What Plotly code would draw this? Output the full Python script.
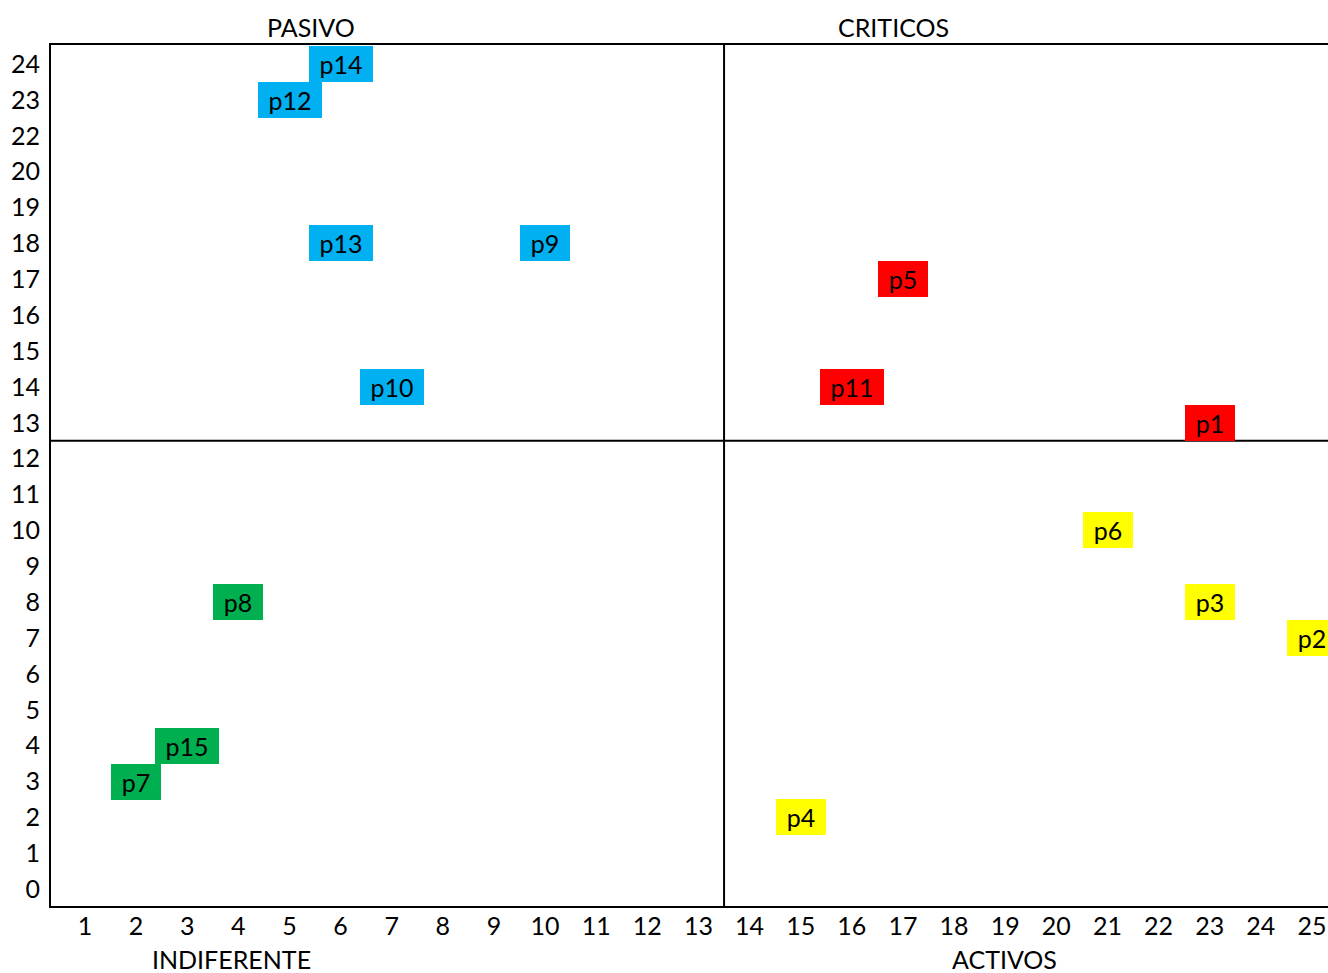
import plotly.graph_objects as go

# ---- data ----
labels = ["p1", "p2", "p3", "p4", "p5", "p6", "p7", "p8", "p9", "p10",
          "p11", "p12", "p13", "p14", "p15"]
x_vals = [23, 25, 23, 15, 17, 21, 2, 4, 10, 7, 16, 5, 6, 6, 3]
y_vals = [13, 7, 8, 2, 17, 10, 3, 8, 18, 14, 14, 23, 18, 24, 4]
x_ticks = list(range(1, 26))
y_categories = [str(v) for v in list(range(0, 21)) + [22, 23, 24]]
x_split = 13.5
y_split = 12.5
quadrant_titles = ["PASIVO", "CRITICOS", "INDIFERENTE", "ACTIVOS"]

# ---- styling ----
FONT = "Lato"
FS = 25
COL_CRIT = "#FF0000"
COL_ACT = "#FFFF00"
COL_PAS = "#00B0F0"
COL_IND = "#00B050"


def quad_color(x, y):
    if x > x_split and y > y_split:
        return COL_CRIT
    if x > x_split:
        return COL_ACT
    if y > y_split:
        return COL_PAS
    return COL_IND


y_str = [str(v) for v in y_vals]
# position index of each y value on the category axis
y_idx = [y_categories.index(s) for s in y_str]

fig = go.Figure()
fig.add_trace(go.Scatter(
    x=x_vals, y=y_str, mode="markers",
    marker=dict(size=1, color="rgba(0,0,0,0)"),
    hoverinfo="text", text=labels, showlegend=False,
))

for lab, xv, yv, yi in zip(labels, x_vals, y_vals, y_idx):
    fig.add_annotation(
        x=xv, y=yi, xref="x", yref="y", text=lab, showarrow=False,
        bgcolor=quad_color(xv, yv), borderwidth=0, borderpad=0,
        width=(64 if len(lab) > 2 else 50), height=36,
        font=dict(family=FONT, size=FS, color="black"),
        align="center", valign="middle",
    )

# quadrant separator lines
fig.add_shape(type="line", xref="x", yref="paper", x0=x_split, x1=x_split,
              y0=0, y1=1, line=dict(color="black", width=2))
fig.add_shape(type="line", xref="paper", yref="y", x0=0, x1=1,
              y0=y_split, y1=y_split, line=dict(color="black", width=2))

# quadrant titles
title_pos = [(0.2036, 1.021), (0.660, 1.021), (0.1417, -0.062), (0.747, -0.062)]
for t, (px, py) in zip(quadrant_titles, title_pos):
    fig.add_annotation(text=t, x=px, y=py, xref="paper", yref="paper",
                       showarrow=False, xanchor="center", yanchor="middle",
                       font=dict(family=FONT, size=FS, color="black"))

fig.update_layout(
    width=1328, height=973,
    margin=dict(l=51, r=0, t=45, b=67),
    paper_bgcolor="white", plot_bgcolor="white",
    font=dict(family=FONT, size=FS, color="black"),
    showlegend=False,
)
fig.update_xaxes(
    range=[0.335, 25.313], tickmode="array", tickvals=x_ticks,
    ticktext=[str(v) for v in x_ticks], ticklabeloverflow="allow",
    showgrid=False, zeroline=False, showline=True, linecolor="black",
    linewidth=2, mirror=True, ticks="", ticklabelstandoff=-3,
)
fig.update_yaxes(
    type="category", categoryorder="array", categoryarray=y_categories,
    range=[-0.47, 23.53], showgrid=False, zeroline=False, showline=True,
    linecolor="black", linewidth=2, ticks="", ticklabelstandoff=4,
)

fig.write_html(
    "out.html",
    config={"displayModeBar": False},
    post_script="document.body.style.margin='0';document.body.style.overflow='hidden';",
)
